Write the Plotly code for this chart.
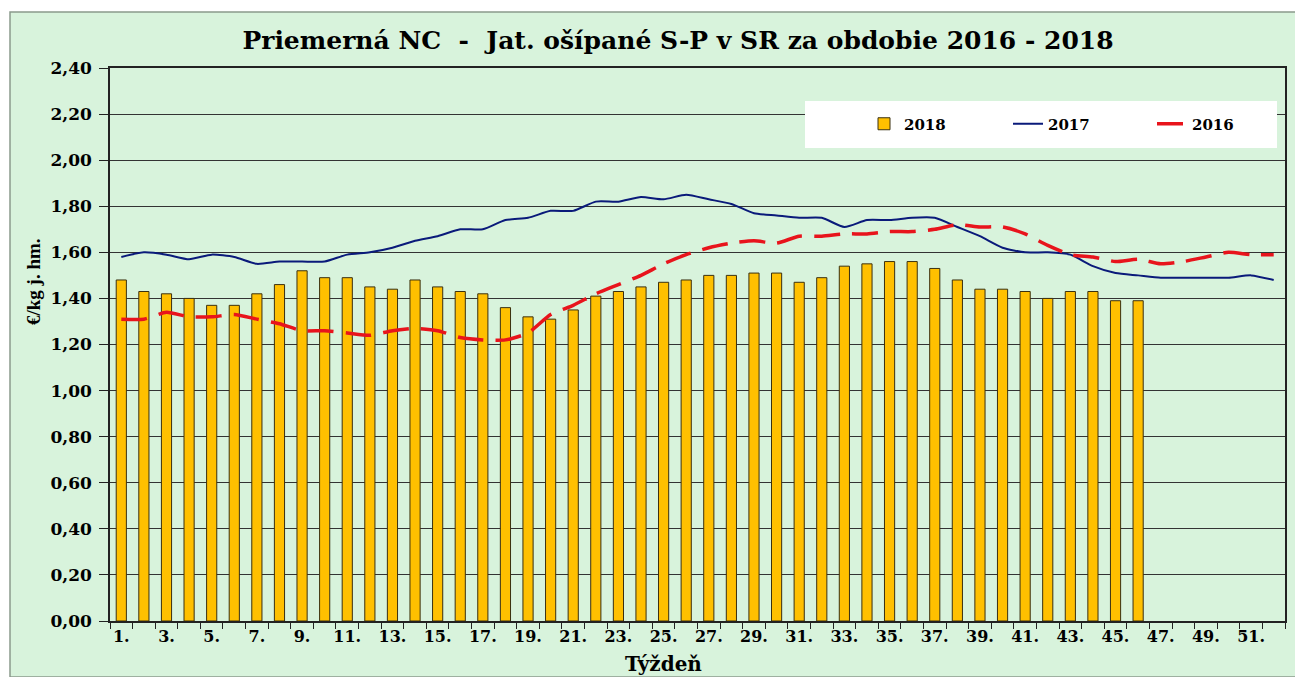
import plotly.graph_objects as go

weeks = list(range(1, 53))
tick_vals = list(range(1, 53, 2))
tick_text = [f"{w}." for w in tick_vals]

y2018 = [1.48, 1.43, 1.42, 1.40, 1.37, 1.37, 1.42, 1.46, 1.52, 1.49,
         1.49, 1.45, 1.44, 1.48, 1.45, 1.43, 1.42, 1.36, 1.32, 1.31,
         1.35, 1.41, 1.43, 1.45, 1.47, 1.48, 1.50, 1.50, 1.51, 1.51,
         1.47, 1.49, 1.54, 1.55, 1.56, 1.56, 1.53, 1.48, 1.44, 1.44,
         1.43, 1.40, 1.43, 1.43, 1.39, 1.39]
y2017 = [1.58, 1.60, 1.59, 1.57, 1.59, 1.58, 1.55, 1.56, 1.56, 1.56,
         1.59, 1.60, 1.62, 1.65, 1.67, 1.70, 1.70, 1.74, 1.75, 1.78,
         1.78, 1.82, 1.82, 1.84, 1.83, 1.85, 1.83, 1.81, 1.77, 1.76,
         1.75, 1.75, 1.71, 1.74, 1.74, 1.75, 1.75, 1.71, 1.67, 1.62,
         1.60, 1.60, 1.59, 1.54, 1.51, 1.50, 1.49, 1.49, 1.49, 1.49,
         1.50, 1.48]
y2016 = [1.31, 1.31, 1.34, 1.32, 1.32, 1.33, 1.31, 1.29, 1.26, 1.26,
         1.25, 1.24, 1.26, 1.27, 1.26, 1.23, 1.22, 1.22, 1.25, 1.33,
         1.37, 1.42, 1.46, 1.50, 1.55, 1.59, 1.62, 1.64, 1.65, 1.64,
         1.67, 1.67, 1.68, 1.68, 1.69, 1.69, 1.70, 1.72, 1.71, 1.71,
         1.68, 1.63, 1.59, 1.58, 1.56, 1.57, 1.55, 1.56, 1.58, 1.60,
         1.59, 1.59]

FONT = "DejaVu Serif"
# page has an 8px body margin; figure occupies page x 8..1303, y 8..677
OFF = 8
W, H = 1303 - OFF, 677 - OFF
PL, PR, PT, PB = 110, 1285, 68, 621  # plot area in page pixels
L, R, T, B = PL - OFF, 1303 - PR, PT - OFF, 677 - PB
pw, ph = PR - PL, PB - PT


def px(x):
    return (x - PL) / pw


def py(y):
    return (PB - y) / ph


fig = go.Figure()
fig.add_trace(go.Bar(
    x=weeks[:len(y2018)], y=y2018, name="2018",
    marker=dict(color="#FFC000", line=dict(color="#3a3010", width=1)),
))
fig.add_trace(go.Scatter(
    x=weeks, y=y2017, name="2017", mode="lines",
    line=dict(color="#0a1a7a", width=2, shape="spline", smoothing=0.6),
))
fig.add_trace(go.Scatter(
    x=weeks, y=y2016, name="2016", mode="lines",
    line=dict(color="#E8141C", width=3.5, dash="26px,12px", shape="spline", smoothing=0.6),
))

shapes = [
    dict(type="rect", xref="paper", yref="paper", x0=px(10), x1=px(1303), y0=py(677), y1=py(12),
         fillcolor="#d8f3dc", line=dict(color="#8a9a8c", width=1.5), layer="below"),
    dict(type="rect", xref="paper", yref="paper", x0=px(805), x1=px(1277), y0=py(148), y1=py(101),
         fillcolor="white", line=dict(width=0), layer="above"),
]

annotations = [
    dict(text="<b>€/kg j. hm.</b>", xref="paper", yref="paper", x=px(33), y=py(282), showarrow=False,
         xanchor="center", yanchor="middle",
         textangle=-90, font=dict(family="Liberation Serif", size=19, color="black")),
    dict(text="<b>Týždeň</b>", xref="paper", yref="paper", x=px(663), y=py(664), showarrow=False,
         xanchor="center", yanchor="middle", font=dict(family=FONT, size=20, color="black")),
]

fig.update_layout(
    width=W, height=H,
    margin=dict(l=L, r=R, t=T, b=B, autoexpand=False),
    paper_bgcolor="white", plot_bgcolor="rgba(0,0,0,0)",
    separators=", ",
    bargap=0.55,
    title=dict(text="<b>Priemerná NC  -  Jat. ošípané S-P v SR za obdobie 2016 - 2018</b>",
               x=(678 - OFF) / W, xanchor="center", y=1 - (40 - OFF) / H, yanchor="middle",
               font=dict(family=FONT, size=25, color="black")),
    legend=dict(orientation="h", x=px(864), y=py(124), xanchor="left", yanchor="middle",
                bgcolor="rgba(0,0,0,0)", entrywidth=99, entrywidthmode="pixels",
                font=dict(family=FONT, size=15, color="black", weight="bold"), traceorder="normal"),
    shapes=shapes, annotations=annotations,
    xaxis=dict(range=[0.5, 52.5], tickvals=tick_vals, ticktext=tick_text, ticks="", showgrid=False,
               showline=True, linecolor="#222", linewidth=1.5, mirror=True, zeroline=False,
               tickfont=dict(family=FONT, size=16, color="black", weight="bold"),
               minor=dict(tickvals=[i + 0.5 for i in range(0, 53)], ticks="outside", ticklen=6,
                          tickcolor="#222", showgrid=False)),
    yaxis=dict(range=[0, 2.4], dtick=0.2, tickformat=".2f", showgrid=True, gridcolor="#333",
               gridwidth=1, showline=True, linecolor="#222", linewidth=1.5, mirror=True,
               ticks="outside", ticklen=9, tickcolor="#222", zeroline=False, ticklabelstandoff=4,
               tickfont=dict(family=FONT, size=17, color="black", weight="bold")),
)

fig.write_html("out.html")
